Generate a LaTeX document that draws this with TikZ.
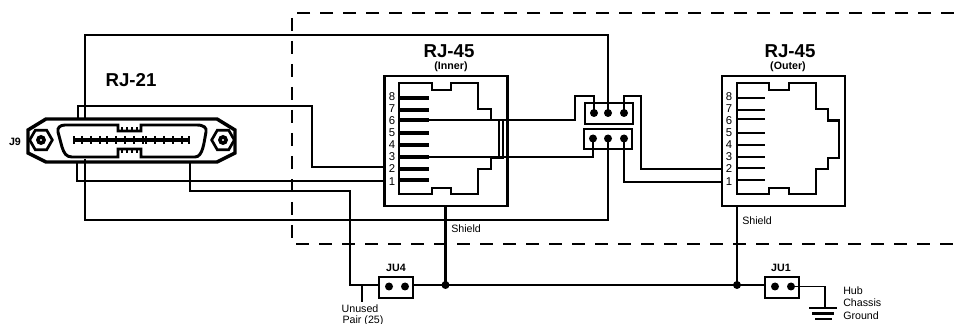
\documentclass[tikz,border=0pt]{standalone}
\usepackage{fontspec}
\setmainfont{Liberation Sans}
\usetikzlibrary{shapes.geometric}
\newcommand{\drawdummy}{\node[minimum size=0,inner sep=0]}
\newcommand{\drawjack}{\node[draw,rectangle,line width=1.8pt,minimum width=92.25pt,minimum height=97.5pt]}
\newcommand{\drawheader}{\node[draw,rectangle,line width=1.7pt,minimum width=36pt,minimum height=15.5pt]}
\newcommand{\drawjumper}{\node[draw,rectangle,line width=1.7pt,minimum width=25.5pt,minimum height=15.75pt]}
\newcommand{\drawdot}{\node[fill,circle,inner sep=0,minimum size=6pt]}
\newcommand{\drawnut}{\node[draw,regular polygon,regular polygon sides=6,line width=2pt,inner sep=0,minimum size=17pt]}
\newcommand{\drawbolt}{\node[fill,circle,inner sep=0,minimum size=7.5pt,path picture={\fill[white] (path picture bounding box.center) circle (0.8pt);}]}
\newcommand{\drawnum}{\node[font=\fontsize{8.5}{9}\selectfont,inner sep=0]}
\newcommand{\drawtext}{\node[font=\fontsize{8}{9}\selectfont,inner sep=0]}
\newcommand{\drawbold}{\node[font=\fontsize{8}{9}\selectfont\bfseries,inner sep=0]}
\newcommand{\drawtitle}{\node[font=\fontsize{14}{15}\selectfont\bfseries,inner sep=0]}
\newcommand{\wire}{\draw[line width=1.4pt]}
\newcommand{\outline}{\draw[line width=1.8pt]}

\begin{document}
\begin{tikzpicture}[x=0.75pt,y=-0.75pt]
\useasboundingbox (0,0) rectangle (954,324);
%boundary of the hub
\drawdummy (bndTop) at (954,13) {};
\drawdummy (bndBot) at (954,244) {};
\drawdummy (bndLeft) at (292,244) {};
\draw[line width=1.7pt,dash pattern=on 9.75pt off 7.5pt] (bndTop.center) -| (bndLeft.center) -- (bndBot.center);

%titles
\drawtitle (titleA) at (131,80) {RJ-21};
\drawtitle (titleB) at (449,51) {RJ-45};
\drawbold (titleBsub) at (451,67) {(Inner)};
\drawtitle (titleC) at (790,51) {RJ-45};
\drawbold (titleCsub) at (788,67) {(Outer)};
\drawbold (j9) at (15,142) {J9};

%RJ-21 connector
\draw[line width=2.6pt] (28,130) -- (46,119) -- (217,119) -- (235,130) -- (235,153) -- (217,162) -- (46,162) -- (28,153) -- cycle;
\draw[line width=2.2pt] (90,125) -- (118,125) -- (118,131) -- (141,131) -- (141,125) -- (197,125) .. controls (204,125) and (207,128) .. (206,132) .. controls (204,142) and (203,157) .. (195,157) -- (141,157) -- (141,149) -- (118,149) -- (118,157) -- (72,157) .. controls (66,157) and (64,153) .. (62,147) -- (58,132) .. controls (57,128) and (60,125) .. (65,125) -- cycle;
\draw[line width=2.8pt] (75,140) -- (188,140);
\draw[line width=6.5pt] (73,140) -- (75,140) (188,140) -- (190,140);
\draw[line width=1pt] (82,136) -- (82,144) (91,136) -- (91,144) (100,136) -- (100,144) (107,136) -- (107,144) (116,136) -- (116,144) (125,136) -- (125,144) (134,136) -- (134,144) (143,136) -- (143,144) (146,136) -- (146,144) (155,136) -- (155,144) (164,136) -- (164,144) (173,136) -- (173,144) (182,136) -- (182,144);
\draw[line width=1.2pt] (122,127) -- (122,131) (127,127) -- (127,131) (132,127) -- (132,131) (137,127) -- (137,131);
\draw[line width=1.2pt] (122,149) -- (122,153) (127,149) -- (127,153) (132,149) -- (132,153) (137,149) -- (137,153);
\drawnut (nutL) at (41,140) {};
\drawbolt (boltL) at (41,140) {};
\drawnut (nutR) at (223,140) {};
\drawbolt (boltR) at (223,140) {};

%inner jack
\drawjack (jackA) at (446,141) {};
\outline (399,83) -- (432,83) -- (432,90) -- (451,90) -- (451,83) -- (478,83) -- (478,109) -- (491,109) -- (491,120) -- (503,120) -- (503,158) -- (491,158) -- (491,169) -- (478,169) -- (478,194) -- (451,194) -- (451,188) -- (432,188) -- (432,194) -- (399,194) -- cycle;
\draw[line width=3pt] (399,98) -- (429,98) (399,110) -- (429,110) (399,120.5) -- (429,120.5) (399,133) -- (429,133) (399,145) -- (429,145) (399,157) -- (429,157) (399,169) -- (429,169) (399,180) -- (429,180);
\drawnum (a8) at (392,97) {8};
\drawnum (a7) at (392,109) {7};
\drawnum (a6) at (392,121) {6};
\drawnum (a5) at (392,133) {5};
\drawnum (a4) at (392,145) {4};
\drawnum (a3) at (392,157) {3};
\drawnum (a2) at (392,169) {2};
\drawnum (a1) at (392,182) {1};

%outer jack
\drawjack (jackB) at (783.5,141) {};
\outline (737,83) -- (769,83) -- (769,90) -- (789,90) -- (789,83) -- (816,83) -- (816,109) -- (828,109) -- (828,120.5) -- (839,120.5) -- (839,158) -- (828,158) -- (828,169) -- (816,169) -- (816,194) -- (789,194) -- (789,188) -- (769,188) -- (769,194) -- (737,194) -- cycle;
\draw[line width=1.5pt] (737,98) -- (765,98) (737,110) -- (765,110) (737,119) -- (765,119) (737,133) -- (765,133) (737,145) -- (765,145) (737,157) -- (765,157) (737,168.5) -- (765,168.5) (737,180) -- (765,180);
\drawnum (b8) at (729,97) {8};
\drawnum (b7) at (729,109) {7};
\drawnum (b6) at (729,121) {6};
\drawnum (b5) at (729,133) {5};
\drawnum (b4) at (729,145) {4};
\drawnum (b3) at (729,157) {3};
\drawnum (b2) at (729,169) {2};
\drawnum (b1) at (729,182) {1};

%pin headers
\drawheader (hdrA) at (609,113.5) {};
\drawdot (hA1) at (594,113) {};
\drawdot (hA2) at (608,113) {};
\drawdot (hA3) at (624,113) {};
\drawheader (hdrB) at (608,139) {};
\drawdot (hB1) at (593,138.5) {};
\drawdot (hB2) at (608,138.5) {};
\drawdot (hB3) at (624,138.5) {};

%jumpers
\drawjumper (ju4) at (396,287.5) {};
\drawdot (ju4a) at (389,286.5) {};
\drawdot (ju4b) at (405,286.5) {};
\drawbold (ju4lab) at (396,268) {JU4};
\drawjumper (ju1) at (782,287.5) {};
\drawdot (ju1a) at (775,286.5) {};
\drawdot (ju1b) at (791,286.5) {};
\drawbold (ju1lab) at (781,268) {JU1};

%points on the wires
\drawdummy (top1) at (85,119) {};
\drawdummy (top2) at (608,35) {};
\drawdummy (bot1) at (85,159) {};
\drawdummy (bot2) at (608,220) {};
\drawdummy (p2top) at (78,119) {};
\drawdummy (p2turn) at (312,106) {};
\drawdummy (p2in) at (384,167) {};
\drawdummy (p1bot) at (77,162) {};
\drawdummy (p1in) at (384,181) {};
\drawdummy (unA) at (190,162) {};
\drawdummy (unB) at (350,191) {};
\drawdummy (unC) at (379,285) {};
\drawdummy (stubA) at (362,285) {};
\drawdummy (stubB) at (362,302) {};
\drawdummy (pin6) at (399,120) {};
\drawdummy (pin3) at (399,157) {};
\drawdummy (link6) at (499,120) {};
\drawdummy (link3) at (499,157) {};
\drawdummy (up6) at (575,96) {};
\drawdummy (outA) at (641,96) {};
\drawdummy (out2) at (722,169) {};
\drawdummy (out1) at (722,182) {};
\drawdummy (shA) at (445.5,206) {};
\drawdummy (shB) at (737,206) {};
\drawdummy (gndA) at (825,308) {};
\drawdot (juncA) at (445.5,285) {};
\drawdot (juncB) at (737,285) {};

%wires
\wire (top1.center) |- (top2.center) -- (hA2.center);
\wire (bot1.center) |- (bot2.center) -- (hB2.center);
\wire (p2top.center) |- (p2turn.center) |- (p2in.center);
\wire (p1bot.center) |- (p1in.center);
\wire (unA.center) |- (unB.center) |- (unC.center);
\wire (stubA.center) -- (stubB.center);
\wire (pin6.center) -| (up6.center) -| (hA1.center);
\wire (pin3.center) -| (hB1.center);
\wire (link6.center) -- (link3.center);
\wire (hA3.center) |- (outA.center) |- (out2.center);
\wire (hB3.center) |- (out1.center);
\wire (ju4.east |- juncA) -- (juncA.center) -- (juncB.center) -- (ju1.west |- juncB);
\draw[line width=2.4pt] (shA.center) -- (juncA.center);
\draw[line width=1.8pt] (shB.center) -- (juncB.center);
\wire (ju1b.center) -| (gndA.center);

%ground
\drawdummy (g1a) at (809,308) {};
\drawdummy (g1b) at (837,308) {};
\drawdummy (g2a) at (812,313.5) {};
\drawdummy (g2b) at (834,313.5) {};
\drawdummy (g3a) at (815,319) {};
\drawdummy (g3b) at (832,319) {};
\draw[line width=1.8pt] (g1a.center) -- (g1b.center);
\draw[line width=1.8pt] (g2a.center) -- (g2b.center);
\draw[line width=1.8pt] (g3a.center) -- (g3b.center);

%small labels
\drawtext[anchor=west] (shieldA) at (451,229) {Shield};
\drawtext[anchor=west] (shieldB) at (742,221) {Shield};
\drawtext (unused) at (360,309) {Unused};
\drawtext (pair) at (363,320.5) {Pair (25)};
\drawtext[anchor=west] (hub) at (843,291) {Hub};
\drawtext[anchor=west] (chassis) at (843,303) {Chassis};
\drawtext[anchor=west] (ground) at (843,316) {Ground};
\end{tikzpicture}
\end{document}
